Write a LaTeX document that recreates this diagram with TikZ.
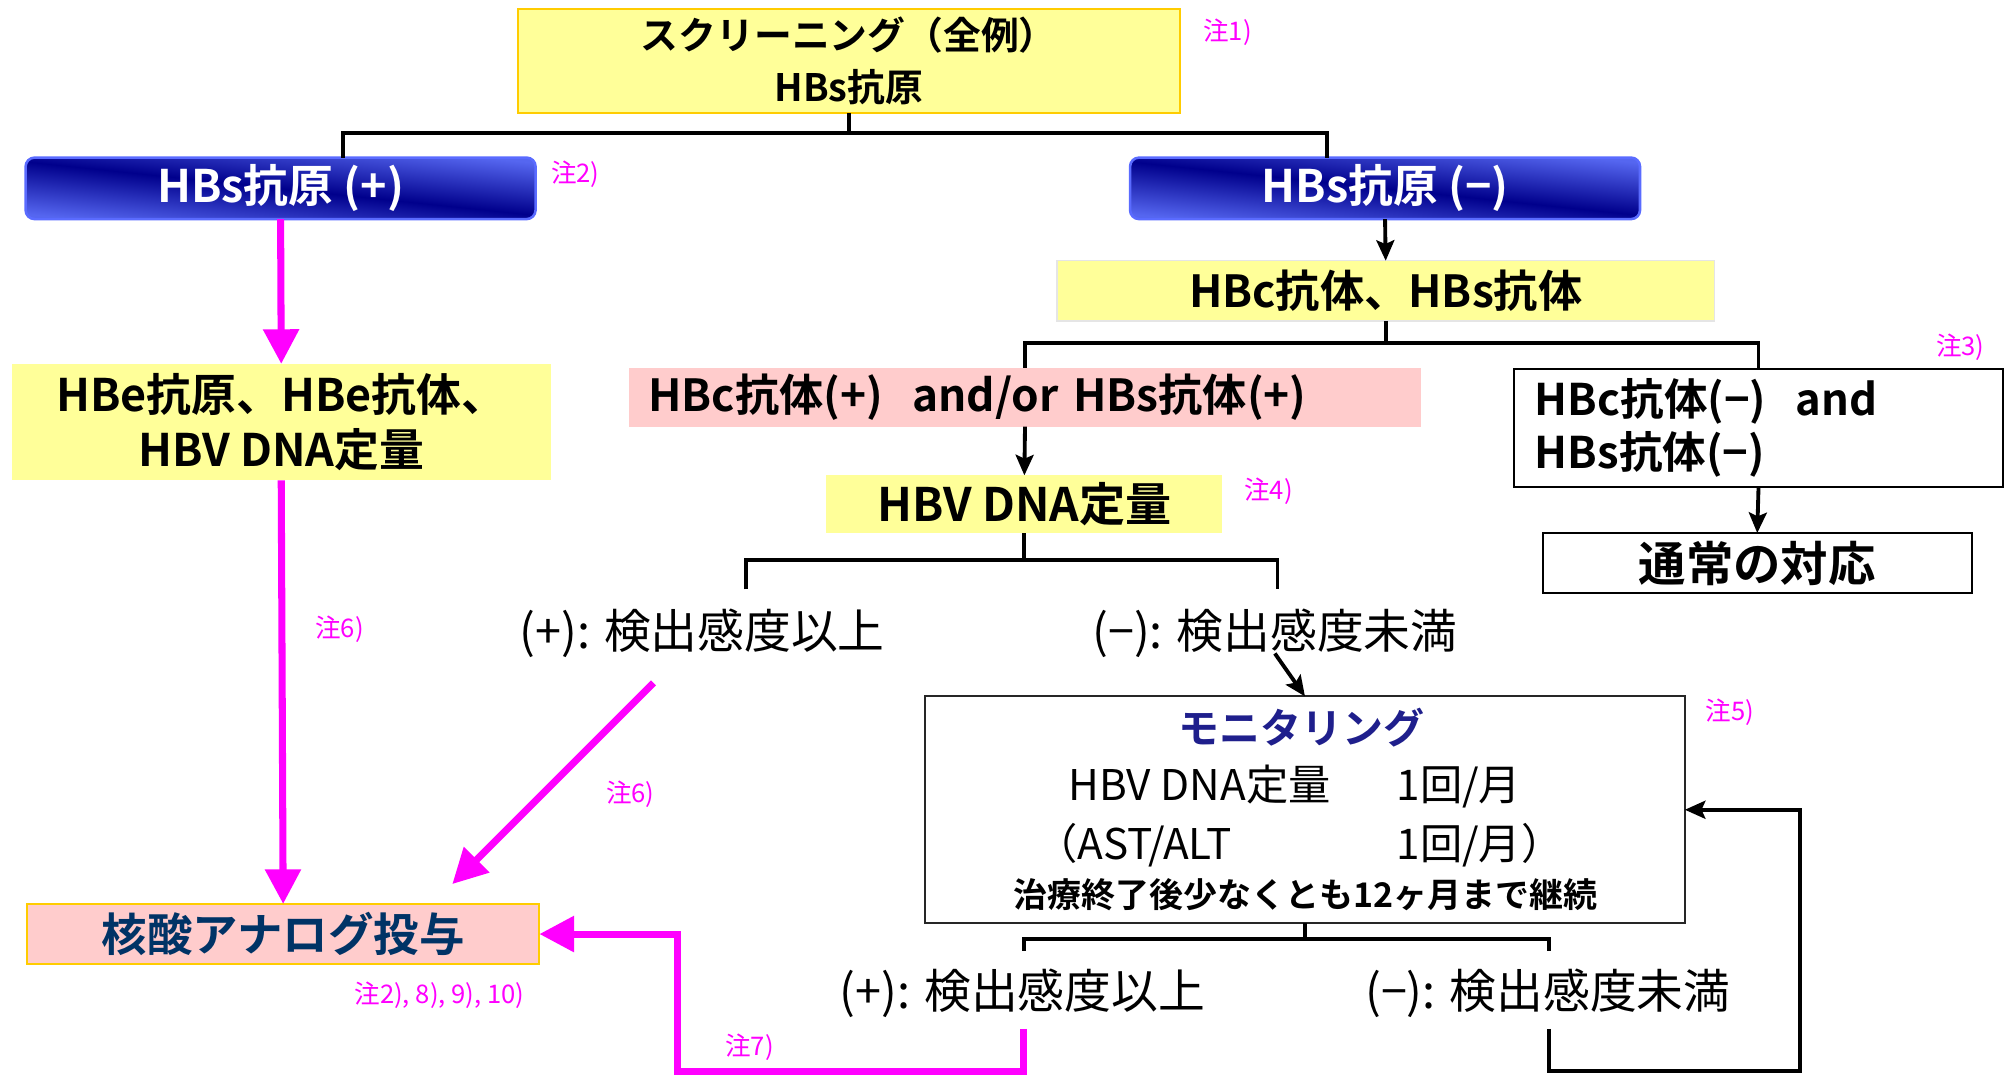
\documentclass[tikz,border=0pt]{standalone}
\usepackage{fontspec}
\setmainfont{Noto Sans CJK JP}[BoldFont={Noto Sans CJK JP Bold}]
\usetikzlibrary{arrows.meta}
\definecolor{yel}{HTML}{FFFF99}
\definecolor{gold}{HTML}{FFCC00}
\definecolor{pinkf}{HTML}{FFCCCC}
\definecolor{mag}{HTML}{FF00FF}
\definecolor{navyt}{HTML}{003366}
\definecolor{mont}{HTML}{1F1F8C}
\definecolor{bbord}{HTML}{5A6BFF}
\definecolor{bdark}{HTML}{00008C}
\definecolor{blight}{HTML}{5566F0}
\newcommand\fsz[2]{\fontsize{#1}{#2}\selectfont}
\tikzset{
  bluebox/.style={rounded corners=7pt, draw=bbord, line width=2pt,
    top color=blight, bottom color=blight, middle color=bdark, shading angle=-6,
    text=white, font=\bfseries\fsz{35}{40}, minimum width=398pt, minimum height=48pt},
  yfill/.style={fill=yel},
  goldbox/.style={draw=gold, line width=1.5pt},
  blackbox/.style={draw=black, line width=1.5pt},
  bigtxt/.style={font=\bfseries\fsz{34.5}{40}},
  plaintxt/.style={font=\fsz{36.5}{42}},
  conn/.style={line width=3pt, draw=black},
  arr/.style={conn, -{Stealth[length=16pt,width=14pt,inset=3pt]}},
  mline/.style={line width=5.5pt, draw=mag},
  marr/.style={mline, -{Triangle[length=27pt,width=27pt]}},
  note/.style={text=mag, font=\fsz{20}{22}},
}
\begin{document}
\begin{tikzpicture}[x=1pt,y=-1pt, every node/.style={inner sep=0pt, outer sep=0pt}]
\useasboundingbox[fill=white] (0,0) rectangle (1568,841);

% top
\node[yfill, goldbox, minimum width=517pt, minimum height=81pt, align=center,
  font=\bfseries\fsz{29.5}{40}] (top) at (662.5,47.5) {スクリーニング（全例）\\HBs抗原};
\node[note] (n1) at (958,25) {注1)};

\node[bluebox] (hbsp) at (219,147) {HBs抗原 (+)};
\node[note] (n2) at (449,136) {注2)};
\node[bluebox] (hbsm) at (1081,147) {HBs抗原 (−)};

\node[yfill, draw=black!10, line width=1pt, minimum width=513pt, minimum height=47pt, bigtxt] (hbc) at (1081.5,227) {HBc抗体、HBs抗体};

\node[fill=pinkf, minimum width=618pt, minimum height=46pt, text width=588pt, inner xsep=15pt, align=left, bigtxt] (pink) at (800,310) {HBc抗体(+)\ \ and/or HBs抗体(+)};
\node[note] (n3) at (1530,271) {注3)};

\node[blackbox, minimum width=381pt, minimum height=92pt, text width=349pt, inner xsep=16pt, align=left, font=\bfseries\fsz{34}{42}] (rbox) at (1372.5,334) {HBc抗体(−)\ \ and\\HBs抗体(−)};
\node[blackbox, minimum width=335pt, minimum height=47pt, font=\bfseries\fsz{37}{40}] (usual) at (1371.5,439.5) {通常の対応};

\node[yfill, minimum width=309pt, minimum height=45pt, font=\bfseries\fsz{36}{40}] (hbv) at (799.5,393.5) {HBV DNA定量};
\node[note] (n4) at (990,383) {注4)};

\node[yfill, minimum width=421pt, minimum height=91pt, align=center, font=\bfseries\fsz{35}{43}] (hbe) at (219.5,329.5) {HBe抗原、HBe抗体、\\HBV DNA定量};

\node[plaintxt] (pos1) at (548,494) {(+): 検出感度以上};
\node[plaintxt] (neg1) at (995,494) {(−): 検出感度未満};
\node[note] (n6a) at (265,491) {注6)};
\node[note] (n6b) at (492,620) {注6)};

\node[fill=pinkf, goldbox, minimum width=400pt, minimum height=47pt, text=navyt, font=\bfseries\fsz{35.5}{40}] (nuc) at (221,729) {核酸アナログ投与};
\node[note] (n2b) at (343,777) {注2), 8), 9), 10)};

\node[draw=black!85, line width=1.5pt, minimum width=593pt, minimum height=177pt] (mon) at (1018.5,632) {};
\node[text=mont, font=\bfseries\fsz{32}{36}] (mon1) at (1016,568) {モニタリング};
\node[font=\fsz{33}{36}, anchor=west] (mon2) at (834,614) {\makebox[256pt][l]{HBV DNA定量}1回/月};
\node[font=\fsz{33}{36}, anchor=west] (mon3) at (808,660) {\makebox[282pt][l]{（AST/ALT}1回/月）};
\node[font=\bfseries\fsz{26.5}{30}] (mon4) at (1019,698) {治療終了後少なくとも12ヶ月まで継続};
\node[note] (n5) at (1350,556) {注5)};

\node[plaintxt] (pos2) at (798,775) {(+): 検出感度以上};
\node[plaintxt] (neg2) at (1208,775) {(−): 検出感度未満};
\node[note] (n7) at (585,817) {注7)};

% black connectors
\coordinate (j1) at (662.5,104);
\draw[conn] (top.south) -- (j1);
\draw[conn] ([xshift=49pt]hbsp.north) |- (j1) -| ([xshift=-45pt]hbsm.north);
\draw[arr] (hbsm.south) -- (hbc.north);
\coordinate (j2) at (1081.5,268);
\draw[conn] (hbc.south) -- (j2);
\draw[conn] (pink.north) |- (j2) -| (rbox.north);
\draw[arr] (pink.south) -- (hbv.north);
\draw[arr] (rbox.south) -- (usual.north);
\coordinate (j3) at (799.5,437);
\coordinate (e1) at (582,460);
\coordinate (e2) at (997,460);
\draw[conn] (hbv.south) -- (j3);
\draw[conn] (e1) |- (j3) -| (e2);
\draw[arr] ([yshift=3pt]neg1.south) -- (mon.north);
\coordinate (j4) at (1018.5,733);
\coordinate (e3) at (799,742);
\coordinate (e4) at (1209,742);
\draw[conn] (mon.south) -- (j4);
\draw[conn] (e3) |- (j4) -| (e4);
\coordinate (s2) at (1209,803);
\coordinate (m2) at (1405,836);
\draw[arr] (s2) |- (m2) |- (mon.east);

% magenta connectors
\draw[marr] (hbsp.south) -- (hbe.north);
\draw[marr] (hbe.south) -- (nuc.north);
\coordinate (d1) at (510,533);
\coordinate (d2) at (353,690);
\draw[marr] (d1) -- (d2);
\coordinate (s1) at (799,803);
\coordinate (m1) at (529,836);
\draw[marr] (s1) |- (m1) |- (nuc.east);
\end{tikzpicture}
\end{document}
